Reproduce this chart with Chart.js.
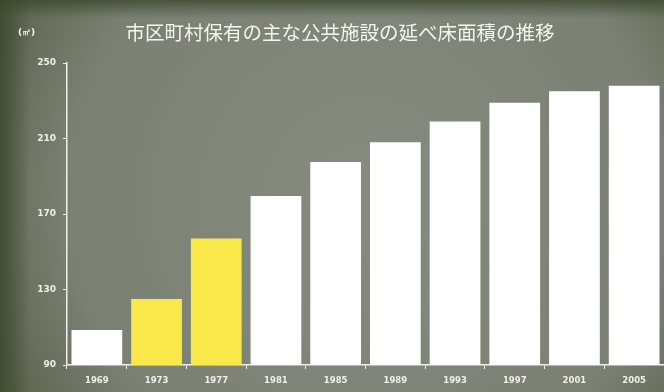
<!DOCTYPE html>
<html><head><meta charset="utf-8">
<script src="https://cdn.jsdelivr.net/npm/chart.js@4"></script>
<style>html,body{margin:0;padding:0;background:#5c6452;}#wrap{width:664px;height:392px;}</style>
</head><body><div id="wrap"><canvas id="c" width="664" height="392"></canvas></div>
<script>
const categories = ['1969','1973','1977','1981','1985','1989','1993','1997','2001','2005'];
const floorArea = [108.5, 125, 157, 179.5, 197.5, 208, 219, 229, 235, 238];
const barColors = ['#ffffff','#f8e84a','#f8e84a','#ffffff','#ffffff','#ffffff','#ffffff','#ffffff','#ffffff','#ffffff'];
const yTicks = [90, 130, 170, 210, 250];
const titleText = '市区町村保有の主な公共施設の延べ床面積の推移';
const unitText = '(㎡)';

const bgPlugin = {
  id: 'bg',
  beforeDraw(chart) {
    const ctx = chart.ctx, w = chart.width, h = chart.height;
    ctx.save();
    const g = ctx.createRadialGradient(w*0.55, h*0.5, 40, w*0.55, h*0.5, w*0.62);
    g.addColorStop(0, '#858a7f');
    g.addColorStop(0.7, '#7a8072');
    g.addColorStop(1, '#59624c');
    ctx.fillStyle = g;
    ctx.fillRect(0, 0, w, h);
    const lg = ctx.createLinearGradient(0, 0, 30, 0);
    lg.addColorStop(0, 'rgba(60,72,45,0.85)');
    lg.addColorStop(1, 'rgba(60,72,45,0)');
    ctx.fillStyle = lg;
    ctx.fillRect(0, 0, 30, h);
    const tg = ctx.createLinearGradient(0, 0, 0, 18);
    tg.addColorStop(0, 'rgba(60,72,45,0.8)');
    tg.addColorStop(1, 'rgba(60,72,45,0)');
    ctx.fillStyle = tg;
    ctx.fillRect(0, 0, w, 18);
    ctx.restore();
  },
  afterDraw(chart) {
    const ctx = chart.ctx;
    ctx.save();
    ctx.fillStyle = '#f4f4f0';
    ctx.textBaseline = 'middle';
    ctx.textAlign = 'center';
    ctx.font = '19.5px "Noto Sans CJK JP", sans-serif';
    ctx.fillText(titleText, 340, 33);
    ctx.font = 'bold 9px "DejaVu Sans", sans-serif';
    ctx.textAlign = 'left';
    ctx.fillText(unitText, 18, 33);
    ctx.restore();
  }
};

new Chart(document.getElementById('c'), {
  type: 'bar',
  data: {
    labels: categories,
    datasets: [{
      data: floorArea,
      backgroundColor: barColors,
      borderWidth: 0,
      barPercentage: 0.85,
      categoryPercentage: 1.0
    }]
  },
  options: {
    responsive: false,
    animation: false,
    layout: { padding: { top: 63, right: 0, left: 0, bottom: 0 } },
    plugins: { legend: { display: false }, title: { display: false }, tooltip: { enabled: false } },
    scales: {
      x: {
        offset: true,
        grid: { display: true, drawOnChartArea: false, offset: true, color: '#f0f0ea', tickLength: 4, lineWidth: 1 },
        border: { display: true, color: '#f0f0ea', width: 1.5 },
        ticks: { color: '#f0f0ea', font: { size: 8.5, weight: 'bold', family: 'DejaVu Sans' }, padding: 7 },
        afterFit(scale) { scale.height = 27; }
      },
      y: {
        min: 90, max: 250,
        afterBuildTicks(scale) { scale.ticks = yTicks.map(v => ({ value: v })); },
        grid: { display: true, drawOnChartArea: false, color: '#f0f0ea', tickLength: 4 },
        border: { display: true, color: '#f0f0ea', width: 1.5 },
        ticks: { color: '#f0f0ea', font: { size: 9, weight: 'bold', family: 'DejaVu Sans' }, padding: 7 },
        afterFit(scale) { scale.width = 67; }
      }
    }
  },
  plugins: [bgPlugin]
});
</script>
</body></html>
